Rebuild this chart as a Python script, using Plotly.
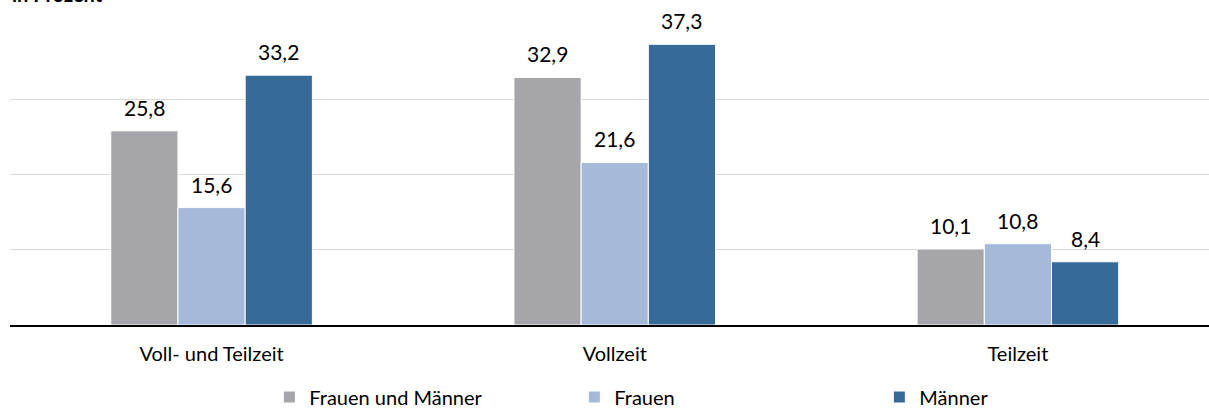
import plotly.graph_objects as go

categories = ["Voll- und Teilzeit", "Vollzeit", "Teilzeit"]
series_names = ["Frauen und Männer", "Frauen", "Männer"]
values_gesamt = [25.8, 32.9, 10.1]
values_frauen = [15.6, 21.6, 10.8]
values_maenner = [33.2, 37.3, 8.4]
colors = ["#a5a5aa", "#a5b9d9", "#366a98"]
y_ticks = [10, 20, 30]

FONT = "Lato, Calibri, Carlito, sans-serif"
series = [values_gesamt, values_frauen, values_maenner]

fig = go.Figure()
for name, vals, col in zip(series_names, series, colors):
    fig.add_trace(go.Bar(
        name=name, x=categories, y=vals,
        marker=dict(color=col, line=dict(color="white", width=1)),
        cliponaxis=False,
    ))

# value labels placed at data coordinates, offset within the group
bar_px = 67.2
annotations = []
for i, vals in enumerate(series):
    for cat, v in zip(categories, vals):
        annotations.append(dict(
            x=cat, y=v, xref="x", yref="y", text=f"{v:.1f}".replace(".", ","),
            showarrow=False, yanchor="bottom", yshift=9, xshift=(i - 1) * bar_px,
            font=dict(size=21, family=FONT, color="black"),
        ))
annotations.append(dict(text="<b>in Prozent</b>", x=0, xref="paper", xanchor="left",
                        y=1, yref="paper", yanchor="bottom", yshift=16, showarrow=False,
                        font=dict(size=20, family=FONT, color="black")))

fig.update_layout(
    width=1209, height=417,
    margin=dict(l=10, r=0, t=24, b=92, autoexpand=False),
    paper_bgcolor="white", plot_bgcolor="white",
    separators=",.",
    barmode="group", bargap=0.5, bargroupgap=0.0,
    font=dict(family=FONT, size=20, color="black"),
    showlegend=True,
    legend=dict(orientation="h", x=0.2163, xanchor="left", y=-0.304, yanchor="bottom",
                entrywidth=260, entrywidthmode="pixels",
                font=dict(size=20, family=FONT, color="black")),
    xaxis=dict(range=[-0.5, 2.474], showgrid=False, showline=True, linecolor="black",
               linewidth=2, ticks="", tickfont=dict(size=20, family=FONT), ticklabelstandoff=10,
               automargin=False),
    yaxis=dict(range=[0, 40], tickvals=y_ticks, showticklabels=False, showgrid=True,
               gridcolor="#d9d9d9", gridwidth=1, zeroline=False, showline=False,
               automargin=False),
    annotations=annotations,
)

fig.write_html("out.html", config={"displayModeBar": False},
               post_script="document.body.style.margin='0';")
